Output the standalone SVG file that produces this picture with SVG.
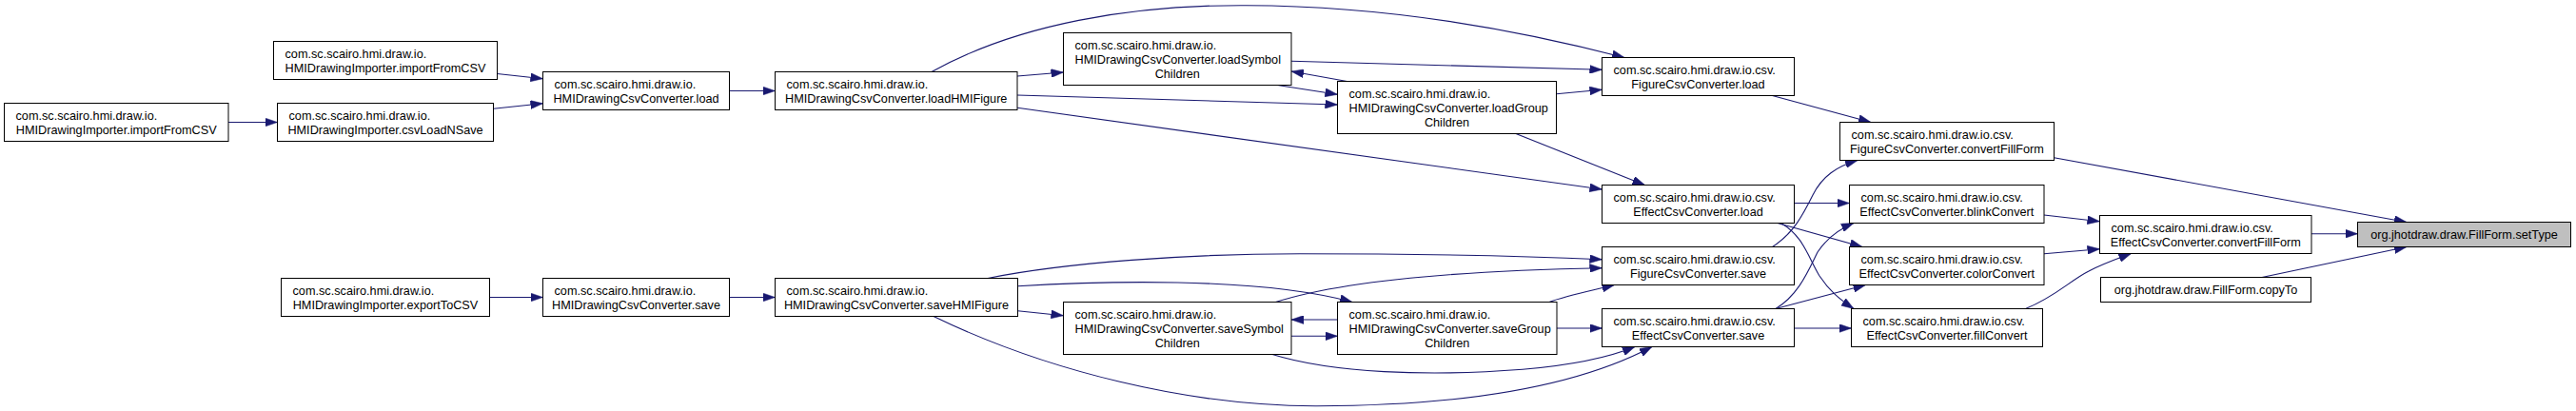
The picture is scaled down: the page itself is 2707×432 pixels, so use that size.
<svg xmlns="http://www.w3.org/2000/svg" width="2707" height="432" viewBox="0 0 2707 432">
<defs>
<style>
.node rect{fill:#ffffff;stroke:#000000;stroke-width:1}
.node.hl rect{fill:#bfbfbf}
.node text{font-family:"Liberation Sans",Arial,sans-serif;font-size:12.7px;fill:#000000}
.node text.c{text-anchor:middle}
.edge{fill:none;stroke:#191970;stroke-width:1.1;marker-end:url(#arrow)}
</style>
<marker id="arrow" viewBox="0 0 13.5 9" refX="13" refY="4.5" markerWidth="13.5" markerHeight="9" markerUnits="userSpaceOnUse" orient="auto">
<path d="M0,0 L13,4.5 L0,9 z" fill="#191970" stroke="#191970" stroke-width="0.5"/>
</marker>
</defs>
<rect width="2707" height="432" fill="#ffffff"/>
<g id="edges">
<path class="edge" d="M240,128.5 L291.5,128.5"/>
<path class="edge" d="M522.5,77.5 L570.5,82.7"/>
<path class="edge" d="M518.5,114.3 L570.5,108.7"/>
<path class="edge" d="M766.5,95.5 L814.5,95.5"/>
<path class="edge" d="M514.5,312.5 L570.5,312.5"/>
<path class="edge" d="M766.5,312.5 L814.5,312.5"/>
<path class="edge" d="M979,75.5 C1070,25 1190,5 1310,5.7 C1450,6 1590,30 1707,60.5"/>
<path class="edge" d="M1069,80 L1117.5,76"/>
<path class="edge" d="M1069,100 L1405.5,110"/>
<path class="edge" d="M1069,113.3 L1683.5,199"/>
<path class="edge" d="M1342.5,89.5 L1405.5,99.3"/>
<path class="edge" d="M1415.5,85.5 L1357,75"/>
<path class="edge" d="M1357,64.3 L1683.5,73.3"/>
<path class="edge" d="M1635.5,98.7 L1683.5,94.3"/>
<path class="edge" d="M1593,140.5 L1728.5,194.5"/>
<path class="edge" d="M1862.5,100.5 L1966,128.5"/>
<path class="edge" d="M1862.5,259.5 C1885,245 1895,225 1905,205 C1915,185 1930,175 1952,168.5"/>
<path class="edge" d="M1885.5,213.5 L1943.5,213.5"/>
<path class="edge" d="M1868,234.5 L1957,259.5"/>
<path class="edge" d="M1871.5,234.5 C1895,248 1900,270 1912,290 C1922,305 1932,314 1948,324.5"/>
<path class="edge" d="M1866,324.5 C1890,310 1900,285 1910,265 C1920,250 1932,241 1948,234.5"/>
<path class="edge" d="M1866,324.5 L1960.5,299.5"/>
<path class="edge" d="M1885.5,345 L1945.5,345"/>
<path class="edge" d="M2158.5,165.7 L2529,233.5"/>
<path class="edge" d="M2148,226 L2206.5,232.7"/>
<path class="edge" d="M2148,266.7 L2206.5,261.7"/>
<path class="edge" d="M2128.5,324.5 C2160,312 2175,295 2195,285 C2210,277 2225,272 2239.5,266.5"/>
<path class="edge" d="M2429,245.7 L2477.5,245.7"/>
<path class="edge" d="M2377,291.5 L2529,259.5"/>
<path class="edge" d="M1038,292.5 C1120,276 1250,266.7 1366,266.7 C1500,266.7 1600,269 1683.5,272.7"/>
<path class="edge" d="M1069.5,300.7 C1150,296 1320,290 1421,317.5"/>
<path class="edge" d="M1340.5,317.5 C1420,292 1560,284 1683.5,281.7"/>
<path class="edge" d="M1069.5,326.7 L1117.5,331.7"/>
<path class="edge" d="M1405.5,336 L1357,336"/>
<path class="edge" d="M1357,353.3 L1405.5,353.3"/>
<path class="edge" d="M1628,317.5 C1645,311 1670,306 1696.5,299.5"/>
<path class="edge" d="M1636,345 L1683.5,345"/>
<path class="edge" d="M1337,372.5 C1400,392 1500,396 1600,388.3 C1650,384 1690,376 1718,364.5"/>
<path class="edge" d="M981,332.5 C1100,390 1250,427 1384,426.7 C1520,426.5 1650,410 1736,364.5"/>
</g>
<g id="n_importFromCSV_left" class="node"><rect x="4.5" y="108.5" width="235.5" height="40"/><text x="16.5" y="125.5">com.sc.scairo.hmi.draw.io.</text><text class="c" x="122.25" y="140.5">HMIDrawingImporter.importFromCSV</text></g>
<g id="n_importFromCSV_top" class="node"><rect x="287.5" y="43.5" width="235" height="40"/><text x="299.5" y="60.5">com.sc.scairo.hmi.draw.io.</text><text class="c" x="405" y="75.5">HMIDrawingImporter.importFromCSV</text></g>
<g id="n_csvLoadNSave" class="node"><rect x="291.5" y="108.5" width="227" height="40"/><text x="303.5" y="125.5">com.sc.scairo.hmi.draw.io.</text><text class="c" x="405" y="140.5">HMIDrawingImporter.csvLoadNSave</text></g>
<g id="n_exportToCSV" class="node"><rect x="295.5" y="292.5" width="219" height="40"/><text x="307.5" y="309.5">com.sc.scairo.hmi.draw.io.</text><text class="c" x="405" y="324.5">HMIDrawingImporter.exportToCSV</text></g>
<g id="n_conv_load" class="node"><rect x="570.5" y="75.5" width="196" height="40"/><text x="582.5" y="92.5">com.sc.scairo.hmi.draw.io.</text><text class="c" x="668.5" y="107.5">HMIDrawingCsvConverter.load</text></g>
<g id="n_conv_save" class="node"><rect x="570.5" y="292.5" width="196" height="40"/><text x="582.5" y="309.5">com.sc.scairo.hmi.draw.io.</text><text class="c" x="668.5" y="324.5">HMIDrawingCsvConverter.save</text></g>
<g id="n_loadHMIFigure" class="node"><rect x="814.5" y="75.5" width="254.5" height="40"/><text x="826.5" y="92.5">com.sc.scairo.hmi.draw.io.</text><text class="c" x="941.75" y="107.5">HMIDrawingCsvConverter.loadHMIFigure</text></g>
<g id="n_saveHMIFigure" class="node"><rect x="814.5" y="292.5" width="255" height="40"/><text x="826.5" y="309.5">com.sc.scairo.hmi.draw.io.</text><text class="c" x="942" y="324.5">HMIDrawingCsvConverter.saveHMIFigure</text></g>
<g id="n_loadSymbolChildren" class="node"><rect x="1117.5" y="34.5" width="239.5" height="55"/><text x="1129.5" y="51.5">com.sc.scairo.hmi.draw.io.</text><text x="1129.5" y="66.5">HMIDrawingCsvConverter.loadSymbol</text><text class="c" x="1237.25" y="81.5">Children</text></g>
<g id="n_loadGroupChildren" class="node"><rect x="1405.5" y="85.5" width="230" height="55"/><text x="1417.5" y="102.5">com.sc.scairo.hmi.draw.io.</text><text x="1417.5" y="117.5">HMIDrawingCsvConverter.loadGroup</text><text class="c" x="1520.5" y="132.5">Children</text></g>
<g id="n_saveSymbolChildren" class="node"><rect x="1117.5" y="317.5" width="239.5" height="55"/><text x="1129.5" y="334.5">com.sc.scairo.hmi.draw.io.</text><text x="1129.5" y="349.5">HMIDrawingCsvConverter.saveSymbol</text><text class="c" x="1237.25" y="364.5">Children</text></g>
<g id="n_saveGroupChildren" class="node"><rect x="1405.5" y="317.5" width="230.5" height="55"/><text x="1417.5" y="334.5">com.sc.scairo.hmi.draw.io.</text><text x="1417.5" y="349.5">HMIDrawingCsvConverter.saveGroup</text><text class="c" x="1520.75" y="364.5">Children</text></g>
<g id="n_fig_load" class="node"><rect x="1683.5" y="60.5" width="202" height="40"/><text x="1695.5" y="77.5">com.sc.scairo.hmi.draw.io.csv.</text><text class="c" x="1784.5" y="92.5">FigureCsvConverter.load</text></g>
<g id="n_eff_load" class="node"><rect x="1683.5" y="194.5" width="202" height="40"/><text x="1695.5" y="211.5">com.sc.scairo.hmi.draw.io.csv.</text><text class="c" x="1784.5" y="226.5">EffectCsvConverter.load</text></g>
<g id="n_fig_save" class="node"><rect x="1683.5" y="259.5" width="202" height="40"/><text x="1695.5" y="276.5">com.sc.scairo.hmi.draw.io.csv.</text><text class="c" x="1784.5" y="291.5">FigureCsvConverter.save</text></g>
<g id="n_eff_save" class="node"><rect x="1683.5" y="324.5" width="202" height="40"/><text x="1695.5" y="341.5">com.sc.scairo.hmi.draw.io.csv.</text><text class="c" x="1784.5" y="356.5">EffectCsvConverter.save</text></g>
<g id="n_fig_convertFillForm" class="node"><rect x="1933.5" y="128.5" width="225" height="40"/><text x="1945.5" y="145.5">com.sc.scairo.hmi.draw.io.csv.</text><text class="c" x="2046" y="160.5">FigureCsvConverter.convertFillForm</text></g>
<g id="n_blinkConvert" class="node"><rect x="1943.5" y="194.5" width="204.5" height="40"/><text x="1955.5" y="211.5">com.sc.scairo.hmi.draw.io.csv.</text><text class="c" x="2045.75" y="226.5">EffectCsvConverter.blinkConvert</text></g>
<g id="n_colorConvert" class="node"><rect x="1943.5" y="259.5" width="204.5" height="40"/><text x="1955.5" y="276.5">com.sc.scairo.hmi.draw.io.csv.</text><text class="c" x="2045.75" y="291.5">EffectCsvConverter.colorConvert</text></g>
<g id="n_fillConvert" class="node"><rect x="1945.5" y="324.5" width="201" height="40"/><text x="1957.5" y="341.5">com.sc.scairo.hmi.draw.io.csv.</text><text class="c" x="2046" y="356.5">EffectCsvConverter.fillConvert</text></g>
<g id="n_eff_convertFillForm" class="node"><rect x="2206.5" y="226.5" width="222.5" height="40"/><text x="2218.5" y="243.5">com.sc.scairo.hmi.draw.io.csv.</text><text class="c" x="2317.75" y="258.5">EffectCsvConverter.convertFillForm</text></g>
<g id="n_copyTo" class="node"><rect x="2207.5" y="291.5" width="221" height="26"/><text class="c" x="2318" y="309">org.jhotdraw.draw.FillForm.copyTo</text></g>
<g id="n_setType" class="node hl"><rect x="2477.5" y="233.5" width="224" height="26"/><text class="c" x="2589.5" y="251">org.jhotdraw.draw.FillForm.setType</text></g>
</svg>
